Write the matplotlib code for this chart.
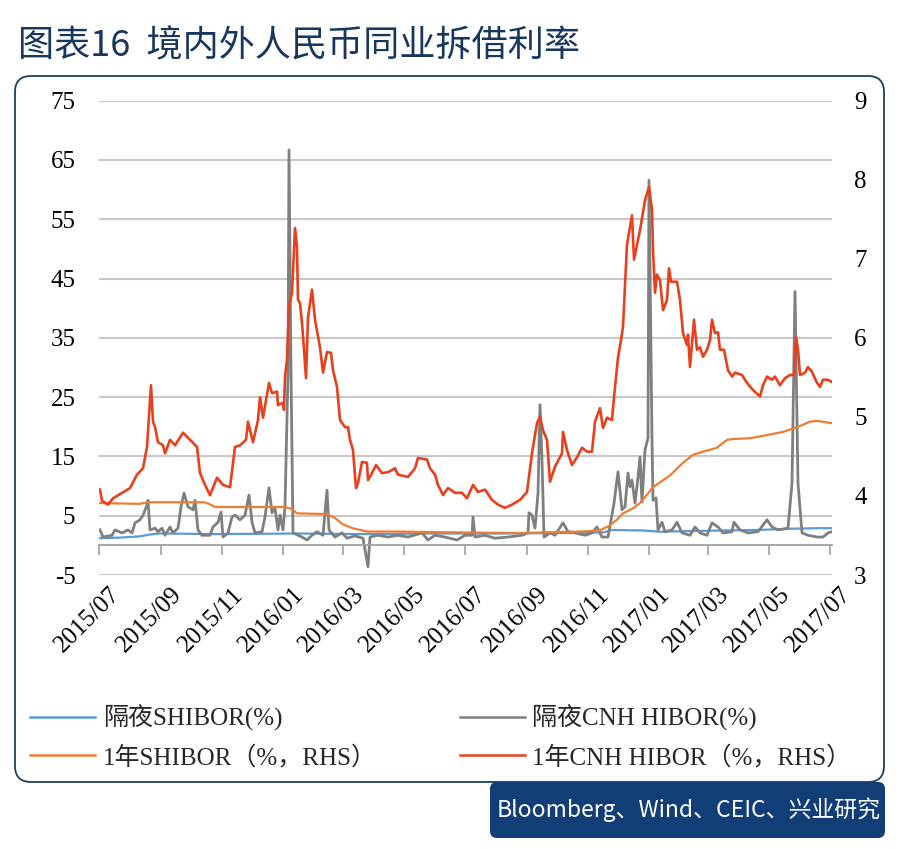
import numpy as np
import pandas as pd
import matplotlib
matplotlib.use('Agg')
import matplotlib.pyplot as plt
import matplotlib.dates as mdates
from matplotlib.patches import FancyBboxPatch
from matplotlib.transforms import ScaledTranslation

plt.rcParams['axes.unicode_minus'] = False

# ---- data, days counted from 2015-07-01 ----
start = pd.Timestamp('2015-07-01')

# 1Y CNH HIBOR (%, RHS)
cnh_1y_days = [1, 3, 9, 14, 31, 38, 44, 48, 52, 54,
               56, 59, 64, 66, 71, 76, 84, 91, 98, 101,
               106, 111, 118, 124, 131, 136, 141, 147, 149, 154,
               159, 161, 164, 168, 170, 173, 178, 179, 184, 185,
               186, 188, 190, 193, 196, 198, 199, 201, 203, 205,
               207, 209, 213, 216, 221, 224, 228, 232, 234, 238,
               241, 246, 249, 251, 254, 257, 259, 263, 268, 269,
               273, 277, 283, 289, 296, 299, 309, 316, 319, 328,
               331, 336, 339, 344, 349, 356, 363, 368, 374, 379,
               386, 393, 399, 406, 413, 421, 428, 433, 438, 441,
               444, 448, 451, 456, 463, 464, 468, 473, 478, 483,
               488, 493, 496, 501, 504, 508, 513, 515, 519, 522,
               524, 528, 533, 535, 541, 546, 550, 553, 554, 556,
               558, 561, 564, 568, 570, 572, 578, 581, 584, 588,
               589, 591, 595, 598, 601, 604, 608, 611, 613, 616,
               619, 621, 625, 629, 633, 636, 643, 648, 654, 661,
               664, 668, 673, 676, 681, 686, 691, 695, 697, 699,
               701, 706, 709, 713, 718, 721, 724, 729, 733]
cnh_1y = [4.08, 3.94, 3.89, 3.97, 4.10, 4.27, 4.35, 4.62, 5.40, 4.94,
          4.87, 4.68, 4.64, 4.54, 4.71, 4.64, 4.80, 4.71, 4.62, 4.29,
          4.14, 4.01, 4.23, 4.14, 4.11, 4.62, 4.64, 4.71, 4.94, 4.68,
          4.96, 5.25, 4.99, 5.28, 5.43, 5.30, 5.32, 5.15, 5.18, 5.09,
          5.51, 5.72, 6.39, 6.57, 7.39, 7.15, 6.48, 6.44, 6.19, 5.85,
          5.49, 6.26, 6.61, 6.23, 5.88, 5.56, 5.82, 5.81, 5.59, 5.38,
          4.96, 4.87, 4.87, 4.71, 4.58, 4.10, 4.16, 4.43, 4.42, 4.20,
          4.29, 4.39, 4.29, 4.30, 4.35, 4.27, 4.24, 4.35, 4.48, 4.46,
          4.35, 4.27, 4.14, 4.01, 4.10, 4.04, 4.04, 3.97, 4.14, 4.05,
          4.08, 3.95, 3.89, 3.85, 3.89, 3.95, 4.05, 4.54, 4.92, 5.00,
          4.83, 4.71, 4.18, 4.37, 4.54, 4.81, 4.58, 4.39, 4.49, 4.61,
          4.56, 4.56, 4.94, 5.11, 4.86, 4.99, 4.96, 5.25, 5.75, 5.97,
          6.14, 7.18, 7.55, 6.99, 7.36, 7.74, 7.91, 7.62, 7.11, 6.57,
          6.80, 6.73, 6.35, 6.48, 6.88, 6.71, 6.71, 6.48, 6.06, 5.91,
          6.04, 5.63, 6.23, 5.85, 5.88, 5.76, 5.85, 5.97, 6.23, 6.06,
          6.07, 5.85, 5.85, 5.59, 5.51, 5.56, 5.53, 5.43, 5.34, 5.26,
          5.40, 5.51, 5.47, 5.51, 5.40, 5.49, 5.53, 5.53, 6.01, 5.85,
          5.53, 5.56, 5.63, 5.57, 5.43, 5.38, 5.47, 5.47, 5.44]

# 1Y SHIBOR (%, RHS)
shibor_1y_days = [1, 40, 50, 105, 110, 116, 185, 192, 198, 228,
                  236, 244, 254, 268, 300, 350, 420, 480, 500, 510,
                  518, 524, 535, 541, 554, 571, 584, 594, 604, 618,
                  628, 634, 651, 668, 684, 698, 711, 718, 733]
shibor_1y = [3.91, 3.90, 3.92, 3.92, 3.90, 3.86, 3.86, 3.84, 3.78, 3.77,
             3.72, 3.64, 3.59, 3.55, 3.55, 3.54, 3.53, 3.55, 3.56, 3.62,
             3.70, 3.78, 3.85, 3.91, 4.11, 4.26, 4.42, 4.52, 4.56, 4.61,
             4.71, 4.72, 4.73, 4.77, 4.81, 4.87, 4.94, 4.95, 4.92]

# overnight SHIBOR (%)
shibor_on_days = [1, 20, 40, 50, 60, 120, 200, 260, 330, 400,
                  480, 505, 512, 545, 560, 590, 620, 660, 690, 720, 733]
shibor_on = [1.2, 1.3, 1.5, 1.8, 2.0, 1.9, 2.0, 1.9, 2.0, 2.0,
             2.1, 2.2, 2.6, 2.5, 2.3, 2.4, 2.5, 2.6, 2.8, 2.9, 2.9]

# overnight CNH HIBOR (%)
cnh_on_days = [1, 4, 13, 16, 23, 29, 33, 36, 41, 44,
               48, 49, 51, 56, 59, 63, 66, 71, 74, 79,
               82, 85, 89, 94, 96, 99, 103, 111, 114, 119,
               122, 124, 129, 133, 136, 141, 146, 150, 153, 156,
               163, 166, 170, 173, 176, 179, 181, 184, 186, 189,
               190, 192, 194, 203, 208, 213, 218, 224, 226, 228,
               230, 236, 243, 248, 256, 264, 269, 271, 279, 289,
               299, 309, 323, 329, 336, 346, 358, 366, 373, 374,
               376, 386, 396, 409, 423, 429, 430, 433, 436, 439,
               441, 443, 445, 451, 456, 464, 469, 476, 486, 493,
               498, 503, 509, 515, 519, 523, 526, 529, 531, 533,
               536, 539, 541, 543, 546, 549, 550, 553, 554, 557,
               559, 563, 566, 573, 578, 583, 591, 596, 601, 608,
               613, 619, 624, 633, 635, 641, 649, 659, 668, 673,
               679, 689, 693, 696, 699, 703, 709, 718, 724, 729, 733]
cnh_on = [2.6, 1.4, 1.7, 2.6, 2.1, 2.6, 2.1, 3.8, 4.3, 5.1,
          6.8, 7.6, 2.6, 2.9, 2.3, 2.9, 1.7, 3.1, 2.1, 2.9,
          6.5, 8.8, 6.5, 6.0, 7.6, 2.6, 1.7, 1.7, 3.1, 3.9,
          5.6, 1.4, 2.1, 4.8, 5.1, 4.3, 5.1, 8.5, 3.9, 2.1,
          2.3, 4.8, 9.7, 5.5, 6.3, 2.6, 5.1, 2.6, 6.5, 29.1,
          66.7, 29.1, 2.1, 1.4, 0.9, 1.7, 2.3, 1.7, 5.5, 9.3,
          2.6, 1.4, 2.1, 1.2, 1.6, 1.2, -3.6, 1.4, 1.7, 1.4,
          1.7, 1.4, 2.1, 0.9, 1.7, 1.4, 0.9, 1.7, 1.7, 4.8,
          1.4, 1.7, 1.2, 1.4, 1.7, 2.1, 5.5, 5.1, 2.9, 8.8,
          23.7, 14.4, 1.4, 2.1, 1.7, 3.8, 2.3, 2.1, 1.7, 2.1,
          3.1, 1.4, 1.4, 7.1, 12.4, 6.0, 6.5, 12.2, 9.9, 11.0,
          7.1, 11.5, 14.9, 7.3, 16.1, 18.1, 61.6, 17.8, 7.6, 8.0,
          2.6, 3.9, 2.3, 2.6, 3.9, 2.1, 1.7, 3.1, 2.1, 1.7,
          3.8, 3.1, 2.1, 2.3, 3.9, 2.6, 2.1, 2.3, 4.3, 3.1,
          2.6, 2.9, 10.5, 42.8, 10.5, 2.1, 1.7, 1.4, 1.4, 2.1, 2.3]

labels = ['隔夜SHIBOR(%)', '隔夜CNH HIBOR(%)',
          '1年SHIBOR（%，RHS）', '1年CNH HIBOR（%，RHS）']
colors = ['#5B9BD5', '#7F7F7F', '#ED7D31', '#E8401C']


def to_dates(days):
    return start + pd.to_timedelta(days, unit='D')


serif = ['Liberation Serif', 'Noto Sans CJK SC']
sans = ['Noto Sans CJK SC', 'DejaVu Sans']

fig = plt.figure(figsize=(9, 8.49), dpi=100)
rect = [99 / 900, 1 - 575 / 849, (832 - 99) / 900, (575 - 100.7) / 849]
ax = fig.add_axes(rect)
ax2 = ax.twinx()

l1, = ax.plot(to_dates(shibor_on_days), shibor_on, color=colors[0], lw=1.6)
l2, = ax.plot(to_dates(cnh_on_days), cnh_on, color=colors[1], lw=2.0)
l3, = ax2.plot(to_dates(shibor_1y_days), shibor_1y, color=colors[2], lw=1.6)
l4, = ax2.plot(to_dates(cnh_1y_days), cnh_1y, color=colors[3], lw=1.9)

xmin = start
xmax = pd.Timestamp('2017-07-03')
ax.set_xlim(xmin, xmax)
ax.set_ylim(-5, 75)
ax.set_yticks(np.arange(-5, 76, 10))
ax2.set_ylim(3, 9)
ax2.set_yticks(np.arange(3, 10, 1))

ax.yaxis.grid(True, color='#C8C8C8', lw=1.5)
ax.set_axisbelow(True)
for a in (ax, ax2):
    for s in ('top', 'right', 'left'):
        a.spines[s].set_visible(False)
ax2.spines['bottom'].set_visible(False)

# category axis crossing at 0 with tick marks
ax.spines['bottom'].set_position(('data', 0))
ax.spines['bottom'].set_color('#A0A0A0')
ax.spines['bottom'].set_linewidth(1.3)
locator = mdates.MonthLocator(bymonth=[1, 3, 5, 7, 9, 11])
ax.xaxis.set_major_locator(locator)
ax.tick_params(axis='x', direction='out', length=7, width=1.2, color='#A0A0A0',
               labelbottom=False)
ax.tick_params(axis='y', length=0, pad=17)
ax2.tick_params(axis='y', length=0, pad=16)
for lab in ax.get_yticklabels() + ax2.get_yticklabels():
    lab.set_family(serif)
    lab.set_fontsize(18)

# date labels at the bottom of the plot area
axl = fig.add_axes(rect, sharex=ax, frameon=False)
axl.set_yticks([])
axl.xaxis.set_major_locator(locator)
axl.xaxis.set_major_formatter(mdates.DateFormatter('%Y/%m'))
axl.tick_params(axis='x', length=0, pad=6)
axl.patch.set_visible(False)
offset = ScaledTranslation(0.10, 0, fig.dpi_scale_trans)
for lab in axl.get_xticklabels():
    lab.set_rotation(45)
    lab.set_ha('right')
    lab.set_va('top')
    lab.set_rotation_mode('anchor')
    lab.set_family(serif)
    lab.set_fontsize(18)
    lab.set_transform(lab.get_transform() + offset)

# title
fig.text(18 / 900, 1 - 46 / 849, '图表16  境内外人民币同业拆借利率', family=sans,
         fontsize=26, weight='medium', color='#17375E', va='center', ha='left')

# rounded frame
frame = FancyBboxPatch((0.15, 0.67), 8.69, 7.06,
                       boxstyle='round,pad=0,rounding_size=0.16',
                       transform=fig.dpi_scale_trans, fill=False,
                       ec='#1F3F56', lw=1.3)
fig.add_artist(frame)

# source box
src = FancyBboxPatch((4.90, 0.11), 3.95, 0.56,
                     boxstyle='round,pad=0,rounding_size=0.07',
                     transform=fig.dpi_scale_trans, fc='#123E77', ec='none')
fig.add_artist(src)
fig.text(4.97 / 9, 0.39 / 8.49, 'Bloomberg、Wind、CEIC、兴业研究', family=sans,
         fontsize=16.5, color='white', va='center', ha='left')

# legend (column-major fill, so order gives two rows as in the original)
leg = fig.legend([l1, l3, l2, l4], [labels[0], labels[2], labels[1], labels[3]],
                 ncol=2, loc='center left',
                 bbox_to_anchor=(30 / 900, 1 - 737 / 849), frameon=False,
                 borderpad=0, borderaxespad=0, handlelength=2.6, handletextpad=0.32,
                 columnspacing=3.3, labelspacing=0.55,
                 prop={'family': serif, 'size': 18})
for t in leg.get_texts():
    t.set_color('#262626')
for h in leg.get_lines():
    h.set_linewidth(1.8)

fig.savefig('out.png', dpi=100)
